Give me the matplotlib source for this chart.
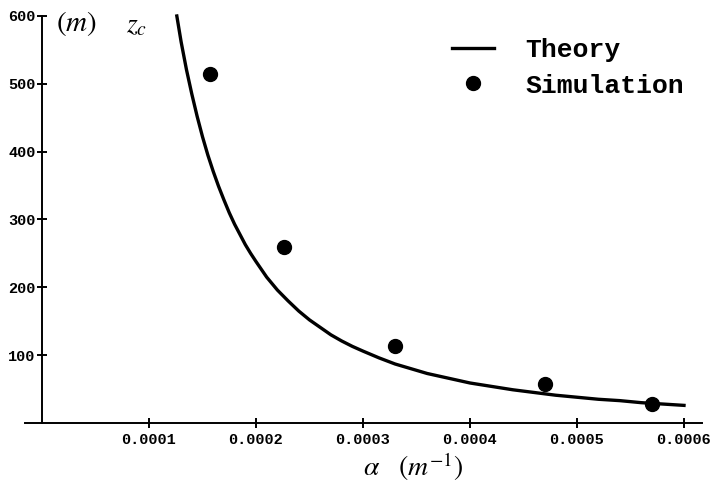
import matplotlib.pyplot as plt
import matplotlib as mpl

mpl.rcParams.update({
    'mathtext.fontset': 'stix',
    'font.family': 'Liberation Mono',
})

# ---------- data ----------
# theory curve (alpha in 1/m, z_c in m)
theory_alpha = [0.000126, 0.000130, 0.000135, 0.000140, 0.000145, 0.000150,
                0.000155, 0.000160, 0.000165, 0.000170, 0.000175, 0.000180,
                0.000185, 0.000190, 0.000195, 0.000200, 0.000210, 0.000220,
                0.000230, 0.000240, 0.000250, 0.000260, 0.000270, 0.000280,
                0.000290, 0.000300, 0.000315, 0.000330, 0.000345, 0.000360,
                0.000380, 0.000400, 0.000420, 0.000440, 0.000460, 0.000480,
                0.000500, 0.000520, 0.000540, 0.000560, 0.000580, 0.000600]
theory_zc = [600, 562, 521, 485, 452, 422, 395, 371, 349, 329, 310, 293,
             278, 263, 250, 238, 215, 196, 180, 165, 152, 141, 130, 121,
             113, 106, 96, 87, 80, 73, 66, 59, 54, 49, 45, 41,
             38, 35, 33, 30, 28, 26]

# simulation points
sim_alpha = [0.000157, 0.000226, 0.00033, 0.00047, 0.00057]
sim_zc = [515, 260, 113, 58, 28]

xticks = [0.0001, 0.0002, 0.0003, 0.0004, 0.0005, 0.0006]
xticklabels = ['0.0001', '0.0002', '0.0003', '0.0004', '0.0005', '0.0006']
yticks = [100, 200, 300, 400, 500, 600]

W, H = 714, 487
fig = plt.figure(figsize=(W / 100, H / 100), dpi=100)
ax = fig.add_axes([20.6 / W, 1 - 429.8 / H, (705.4 - 20.6) / W, (429.8 - 9.2) / H])

ax.plot(theory_alpha, theory_zc, color='black', lw=2.4, solid_joinstyle='round',
        label='Theory')
ax.plot(sim_alpha, sim_zc, 'o', color='black', ms=10, label='Simulation')

ax.set_xlim(-0.00002, 0.00062)
ax.set_ylim(-10, 610)

# Mathematica-style axes crossing at the origin
for s in ['top', 'right']:
    ax.spines[s].set_visible(False)
ax.spines['left'].set_position(('data', 0))
ax.spines['bottom'].set_position(('data', 0))
ax.spines['left'].set_bounds(0, 600)
ax.spines['bottom'].set_bounds(-0.000016, 0.000617)
ax.spines['left'].set_linewidth(1.4)
ax.spines['bottom'].set_linewidth(1.4)

ax.set_xticks(xticks)
ax.set_xticklabels(xticklabels, fontweight='bold', fontsize=11)
ax.set_yticks(yticks)
ax.set_yticklabels([str(v) for v in yticks], fontweight='bold', fontsize=11)
ax.tick_params(axis='both', direction='inout', length=7, width=1.4)
ax.tick_params(axis='x', pad=4)
ax.tick_params(axis='y', pad=1)

# axis labels
fig.text(76 / W, 1 - 23 / H, r'$(m)$', fontsize=21, ha='center', va='center')
fig.text(137 / W, 1 - 25 / H, r'$z_c$', fontsize=20, ha='center', va='center')
fig.text(413 / W, 1 - 467 / H, r'$\alpha\quad(m^{-1})$', fontsize=20,
         ha='center', va='center')

ax.legend(loc='upper left', bbox_to_anchor=(428 / W, 1 - 14 / H),
          bbox_transform=fig.transFigure, frameon=False,
          prop={'family': 'Liberation Mono', 'weight': 'bold', 'size': 19},
          handlelength=1.6, handletextpad=1.2, labelspacing=0.45)

fig.savefig('out.png', dpi=100, facecolor='white')
